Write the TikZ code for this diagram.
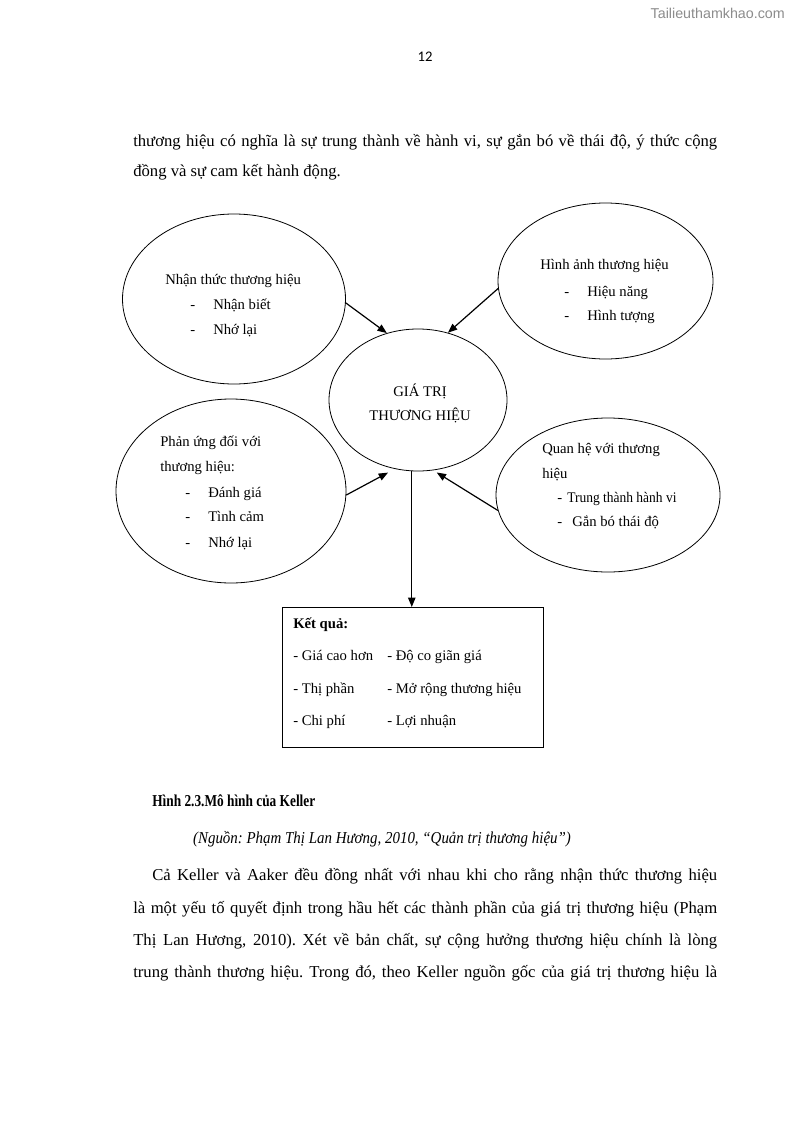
\documentclass[tikz,border=0pt]{standalone}
\usepackage{fontspec}
\setmainfont{Liberation Serif}
\newfontfamily\headfont{Liberation Sans}
\newfontfamily\numfont{Carlito}
\usetikzlibrary{shapes.geometric,arrows.meta}
\frenchspacing
\begin{document}
\begin{tikzpicture}[x=0.75pt,y=-0.75pt,
  oval/.style={draw, ellipse, line width=0.6pt, inner sep=0pt},
  arr/.style={draw, line width=0.9pt, -{Triangle[length=7pt,width=5.5pt]}},
  dt/.style={anchor=base west, inner sep=0pt, font=\fontsize{11}{13}\selectfont},
  dc/.style={anchor=base, inner sep=0pt, font=\fontsize{11}{13}\selectfont},
  bt/.style={anchor=base west, inner sep=0pt, font=\fontsize{12.5}{15}\selectfont},
  bc/.style={anchor=base, inner sep=0pt, font=\fontsize{12.5}{15}\selectfont}]
\useasboundingbox (0,0) rectangle (794,1123);
\fill[white] (0,0) rectangle (794,1123);
% header
\node[anchor=base east, inner sep=0pt, text=black!45, font=\headfont\fontsize{10.7}{12}\selectfont] (wm) at (785,19) {Tailieuthamkhao.com};
\node[anchor=base, inner sep=0pt, font=\numfont\fontsize{11}{13}\selectfont] (pg) at (425,62) {12};
% paragraph 1
\node[bt] (p1a) at (133,147) {\makebox[438pt][s]{thương hiệu có nghĩa là sự trung thành về hành vi, sự gắn bó về thái độ, ý thức cộng}};
\node[bt] (p1b) at (133,177) {đồng và sự cam kết hành động.};
% ellipses
\node[oval, minimum width=223*0.75pt, minimum height=170*0.75pt] (e1) at (234,299) {};
\node[oval, minimum width=215*0.75pt, minimum height=156*0.75pt] (e2) at (605.5,281) {};
\node[oval, minimum width=178*0.75pt, minimum height=142*0.75pt] (c) at (418,400) {};
\node[oval, minimum width=230*0.75pt, minimum height=184*0.75pt] (e3) at (231,491) {};
\node[oval, minimum width=224*0.75pt, minimum height=154*0.75pt] (e4) at (608,495) {};
% box
\node[draw, line width=0.6pt, anchor=north west, minimum width=261*0.75pt, minimum height=140*0.75pt, inner sep=0pt] (box) at (282,607) {};
% texts e1
\node[dt] (t1) at (165,284) {Nhận thức thương hiệu};
\node[dt] (t1d1) at (190,309) {-};
\node[dt] (t1a) at (213,309) {Nhận biết};
\node[dt] (t1d2) at (190,334) {-};
\node[dt] (t1b) at (213,334) {Nhớ lại};
% texts e2
\node[dt] (t2) at (540,269) {Hình ảnh thương hiệu};
\node[dt] (t2d1) at (564,296) {-};
\node[dt] (t2a) at (587,296) {Hiệu năng};
\node[dt] (t2d2) at (564,320) {-};
\node[dt] (t2b) at (587,320) {Hình tượng};
% center
\node[dc] (tc1) at (420,396) {GIÁ TRỊ};
\node[dc] (tc2) at (420,420) {THƯƠNG HIỆU};
% texts e3
\node[dt] (t3) at (160,446) {Phản ứng đối với};
\node[dt] (t3x) at (160,471) {thương hiệu:};
\node[dt] (t3d1) at (185,497) {-};
\node[dt] (t3a) at (208,497) {Đánh giá};
\node[dt] (t3d2) at (185,521) {-};
\node[dt] (t3b) at (208,521) {Tình cảm};
\node[dt] (t3d3) at (185,547) {-};
\node[dt] (t3c) at (208,547) {Nhớ lại};
% texts e4
\node[dt] (t4) at (542,453) {Quan hệ với thương};
\node[dt] (t4x) at (542,478) {hiệu};
\node[dt] (t4d1) at (557,502) {-};
\node[dt] (t4a) at (567,502) {\scalebox{0.92}[1]{Trung thành hành vi}};
\node[dt] (t4d2) at (557,526) {-};
\node[dt] (t4b) at (572,526) {Gắn bó thái độ};
% box texts
\node[dt, font=\fontsize{11}{13}\selectfont\bfseries] (k0) at (293,628) {Kết quả:};
\node[dt] (k1) at (293,660) {- Giá cao hơn};
\node[dt] (k2) at (387,660) {- Độ co giãn giá};
\node[dt] (k3) at (293,693) {- Thị phần};
\node[dt] (k4) at (387,693) {- Mở rộng thương hiệu};
\node[dt] (k5) at (293,725) {- Chi phí};
\node[dt] (k6) at (387,725) {- Lợi nhuận};
% arrows
\draw[arr] (e1.-2) -- (c.115);
\draw[arr] (e2.184) -- (c.66);
\draw[arr] (e3.-2) -- ([yshift=-4pt]c.246);
\draw[arr] (e4.188) -- ([yshift=-2pt]c.-75);
\draw[arr] (c.265) -- (c.265 |- box.north);
% caption
\node[bt, font=\fontsize{12.5}{15}\selectfont\bfseries] (cap) at (152,806) {\scalebox{0.8}[1]{Hình 2.3.Mô hình của Keller}};
\node[bc, font=\fontsize{12.5}{15}\selectfont\itshape] (src) at (382,843) {\scalebox{0.896}[1]{(Nguồn: Phạm Thị Lan Hương, 2010, “Quản trị thương hiệu”)}};
% paragraph 2
\node[bt] (p2a) at (152,880) {\makebox[423.75pt][s]{Cả Keller và Aaker đều đồng nhất với nhau khi cho rằng nhận thức thương hiệu}};
\node[bt] (p2b) at (133,913) {\makebox[438pt][s]{là một yếu tố quyết định trong hầu hết các thành phần của giá trị thương hiệu (Phạm}};
\node[bt] (p2c) at (133,945) {\makebox[438pt][s]{Thị Lan Hương, 2010). Xét về bản chất, sự cộng hưởng thương hiệu chính là lòng}};
\node[bt] (p2d) at (133,977) {\makebox[438pt][s]{trung thành thương hiệu. Trong đó, theo Keller nguồn gốc của giá trị thương hiệu là}};
\end{tikzpicture}
\end{document}
